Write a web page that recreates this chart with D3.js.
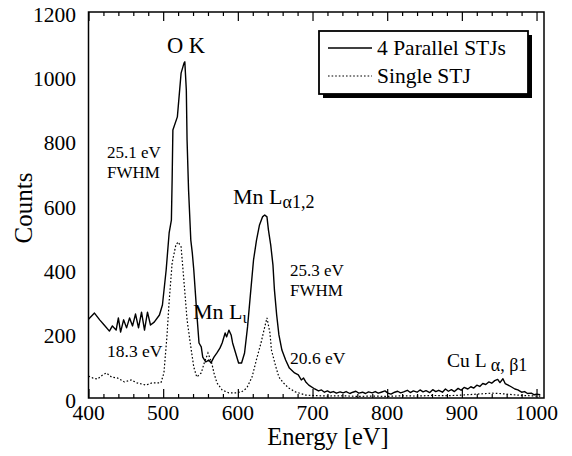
<!DOCTYPE html>
<html>
<head>
<meta charset="utf-8">
<script src="https://cdn.jsdelivr.net/npm/d3@7"></script>
<style>
  body { margin: 0; background: #fff; }
  svg { display: block; }
  text { font-family: "Liberation Serif", "Times New Roman", serif; fill: #000; }
</style>
</head>
<body>
<svg id="chart" width="572" height="456"></svg>
<script>
// ---- Data ----
const parallelEnergy = [400,408,415,421,428,432,437,440,443,447,451,455,459,463,467,471,475,479,483,488,495,499,504,508,511,512,513,519,524,528,529,531,532,534,537,539,541,545,548,551,553,557,561,564,568,572,576,579,583,585,588,591,593,597,601,605,609,613,617,621,625,629,633,636,639,641,644,647,649,652,655,659,664,669,676,681,685,688,691,695,703,708,712,716,720,724,728,732,737,741,745,750,754,758,762,767,771,775,780,784,788,792,797,801,805,810,814,818,822,827,831,835,840,844,848,852,857,861,865,869,874,878,882,886,890,895,899,903,908,912,916,920,924,928,932,936,940,944,948,951,955,958,962,966,971,975,980,984,988,993,997,1000,1005];
const parallelCounts = [245,264,243,227,208,224,211,249,205,243,218,249,224,261,218,267,211,267,227,236,258,289,398,513,553,678,833,874,1010,1042,1045,958,802,647,491,451,398,264,171,159,127,112,118,109,127,140,155,171,202,190,211,196,171,140,109,109,140,221,326,429,491,538,563,569,563,522,476,414,336,258,196,149,118,93,78,72,56,62,50,40,28,22,25,18,22,17,20,15,19,16,20,14,18,21,15,18,14,19,16,20,15,18,22,15,12,18,21,16,19,24,17,22,18,25,19,23,17,26,20,24,18,28,21,26,20,30,24,33,28,35,31,40,36,45,42,50,46,54,58,48,60,45,40,35,28,25,18,20,14,15,10,12,10];

const singleEnergy = [400,406,412,418,424,431,439,448,457,465,477,485,497,501,505,508,512,517,520,524,528,532,537,541,545,551,555,560,565,568,572,579,588,597,605,612,619,625,631,635,639,643,645,651,655,661,668,677,691,700,720,740,760,780,800,820,840,860,880,900,920,940,950,960,980,1000,1005];
const singleCounts = [68,62,59,70,78,65,62,50,56,47,40,47,47,78,190,300,420,476,485,470,358,243,159,96,65,78,109,140,109,78,47,25,16,16,19,31,65,120,171,211,249,202,149,96,65,47,31,19,9,8,6,7,5,6,5,7,6,8,7,9,12,15,14,12,8,6,6];

const xTicks = [400,500,600,700,800,900,1000];
const yTicks = [0,200,400,600,800,1000,1200];
const seriesNames = ["4 Parallel STJs", "Single STJ"];

(function () {
const svg = d3.select("#chart");
const pL = 88.5, pR = 544, pT = 12, pB = 398;
const x = d3.scaleLinear().domain([400, 1010]).range([pL, pR]);
const y = d3.scaleLinear().domain([0, 1200]).range([pB, pT]);

svg.append("clipPath").attr("id","clip").append("rect")
  .attr("x", pL).attr("y", pT).attr("width", pR-pL).attr("height", pB-pT);

const line = d3.line().x(d => x(d[0])).y(d => y(d[1]));
const parallel = parallelEnergy.map((e,i) => [e, parallelCounts[i]]);
const single = singleEnergy.map((e,i) => [e, singleCounts[i]]);

const g = svg.append("g").attr("clip-path","url(#clip)");
g.append("path").datum(single).attr("d", line)
  .attr("fill","none").attr("stroke","#000").attr("stroke-width",1.2)
  .attr("stroke-dasharray","1.6,2");
g.append("path").datum(parallel).attr("d", line)
  .attr("fill","none").attr("stroke","#000").attr("stroke-width",1.4)
  .attr("stroke-linejoin","round");

const minor = d3.range(400, 1011, 20);
const gb = svg.append("g").attr("transform",`translate(0,${pB})`)
  .call(d3.axisBottom(x).tickValues(minor).tickSize(0).tickFormat(""));
const gt = svg.append("g").attr("transform",`translate(0,${pT})`)
  .call(d3.axisTop(x).tickValues(minor).tickSize(0).tickFormat(""));
gb.select(".domain").remove();
gt.select(".domain").remove();
gb.selectAll(".tick line").attr("stroke","#000").attr("stroke-width",1.2)
  .attr("y2", d => -(d % 100 === 0 ? 9 : 4));
gt.selectAll(".tick line").attr("stroke","#000").attr("stroke-width",1.2)
  .attr("y2", d => (d % 100 === 0 ? 9 : 4));

svg.append("rect").attr("x", pL).attr("y", pT).attr("width", pR-pL).attr("height", pB-pT)
  .attr("fill","none").attr("stroke","#000").attr("stroke-width",1.5);

svg.selectAll(".xl").data(xTicks).enter().append("text")
  .attr("x", d => x(d)).attr("y", 420).attr("text-anchor","middle")
  .attr("font-size", 21.5).text(d => d);
svg.selectAll(".yl").data(yTicks).enter().append("text")
  .attr("x", 76).attr("y", d => y(d) + 2).attr("dy","0.35em").attr("text-anchor","end")
  .attr("font-size", 21.5).text(d => d);

svg.append("text").attr("x", 328).attr("y", 445).attr("text-anchor","middle")
  .attr("font-size", 24.5).text("Energy [eV]");
svg.append("text").attr("transform","translate(32,208) rotate(-90)").attr("text-anchor","middle")
  .attr("font-size", 25).text("Counts");

const lg = svg.append("g");
lg.append("rect").attr("x", 323).attr("y", 35).attr("width", 209).attr("height", 63).attr("fill","#000");
lg.append("rect").attr("x", 319).attr("y", 31).attr("width", 209).attr("height", 63)
  .attr("fill","#fff").attr("stroke","#000").attr("stroke-width",1.8);
lg.append("line").attr("x1", 328).attr("x2", 372).attr("y1", 48).attr("y2", 48)
  .attr("stroke","#000").attr("stroke-width",1.4);
lg.append("line").attr("x1", 328).attr("x2", 372).attr("y1", 76).attr("y2", 76)
  .attr("stroke","#000").attr("stroke-width",1.2).attr("stroke-dasharray","1.6,2");
lg.append("text").attr("x", 377).attr("y", 55).attr("font-size", 21.5).text(seriesNames[0]);
lg.append("text").attr("x", 377).attr("y", 83).attr("font-size", 21.5).text(seriesNames[1]);

function label(xp, yp, size, main, sub, subSize) {
  const t = svg.append("text").attr("x", xp).attr("y", yp).attr("font-size", size);
  t.append("tspan").text(main);
  if (sub) t.append("tspan").attr("font-size", subSize).attr("dy", 4).text(sub);
  return t;
}
label(167, 53, 22.5, "O K");
label(107, 158, 17, "25.1 eV");
label(107, 178, 17, "FWHM");
label(107, 357, 17.5, "18.3 eV");
label(233, 204, 22, "Mn L", "\u03B11,2", 18);
label(290, 276, 17, "25.3 eV");
label(290, 296, 17, "FWHM");
label(193, 319, 22, "Mn L", "\u03B9", 16);
label(290, 364, 17.5, "20.6 eV");
label(447, 367, 19.5, "Cu L ", "\u03B1, \u03B21", 18);
})();
</script>
</body>
</html>
